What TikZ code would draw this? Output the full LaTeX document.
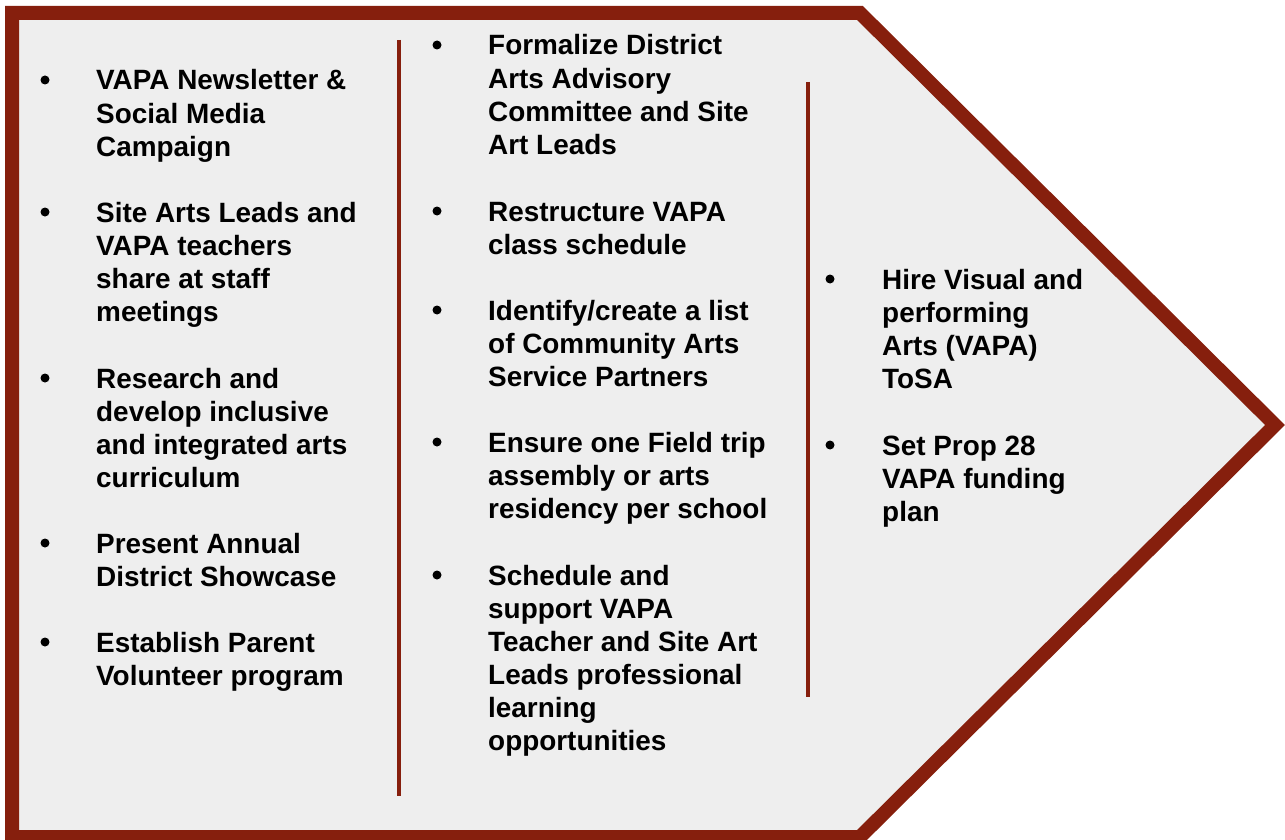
\documentclass[tikz,border=0pt]{standalone}
\usepackage{fontspec}
\setmainfont{Liberation Sans}
\definecolor{frame}{RGB}{134,31,13}
\definecolor{panel}{RGB}{238,238,238}
\begin{document}
\begin{tikzpicture}[x=1pt,y=-1pt,
  item/.style={anchor=base west,inner sep=0pt,font=\fontsize{27.9}{33.1}\selectfont\bfseries},
  dot/.style={circle,fill=black,inner sep=0pt,minimum size=9pt},
  divider/.style={draw=frame,line width=3.5pt}]
\useasboundingbox (0,0) rectangle (1285,840);
% arrow-shaped panel
\draw[fill=panel,draw=frame,line width=14pt,line join=miter]
  (12,13) -- (860,13) -- (1275,425) -- (860,837) -- (12,837) -- cycle;
% column dividers
\coordinate (d1t) at (399,40);  \coordinate (d1b) at (399,796);
\coordinate (d2t) at (808,82);  \coordinate (d2b) at (808,697);
\draw[divider] (d1t) -- (d1b);
\draw[divider] (d2t) -- (d2b);
% first column
\node[dot] (b11) at (45,80) {};
\node[item] (t11) at (96,90) {\parbox[t]{300pt}{VAPA Newsletter \&\\Social Media\\Campaign}};
\node[dot] (b12) at (45,212) {};
\node[item] (t12) at (96,222) {\parbox[t]{300pt}{Site Arts Leads and\\VAPA teachers\\share at staff\\meetings}};
\node[dot] (b13) at (45,378) {};
\node[item] (t13) at (96,388) {\parbox[t]{300pt}{Research and\\develop inclusive\\and integrated arts\\curriculum}};
\node[dot] (b14) at (45,543) {};
\node[item] (t14) at (96,553) {\parbox[t]{300pt}{Present Annual\\District Showcase}};
\node[dot] (b15) at (45,642) {};
\node[item] (t15) at (96,652) {\parbox[t]{300pt}{Establish Parent\\Volunteer program}};
% second column
\node[dot] (b21) at (437,45) {};
\node[item] (t21) at (488,55) {\parbox[t]{320pt}{Formalize District\\Arts Advisory\\Committee and Site\\Art Leads}};
\node[dot] (b22) at (437,211) {};
\node[item] (t22) at (488,221) {\parbox[t]{320pt}{Restructure VAPA\\class schedule}};
\node[dot] (b23) at (437,310) {};
\node[item] (t23) at (488,320) {\parbox[t]{320pt}{Identify/create a list\\of Community Arts\\Service Partners}};
\node[dot] (b24) at (437,442) {};
\node[item] (t24) at (488,452) {\parbox[t]{320pt}{Ensure one Field trip\\assembly or arts\\residency per school}};
\node[dot] (b25) at (437,575) {};
\node[item] (t25) at (488,585) {\parbox[t]{320pt}{Schedule and\\support VAPA\\Teacher and Site Art\\Leads professional\\learning\\opportunities}};
% third column
\node[dot] (b31) at (830,279) {};
\node[item] (t31) at (882,289) {\parbox[t]{260pt}{Hire Visual and\\performing\\Arts (VAPA)\\ToSA}};
\node[dot] (b32) at (830,445) {};
\node[item] (t32) at (882,455) {\parbox[t]{260pt}{Set Prop 28\\VAPA funding\\plan}};
\end{tikzpicture}
\end{document}
